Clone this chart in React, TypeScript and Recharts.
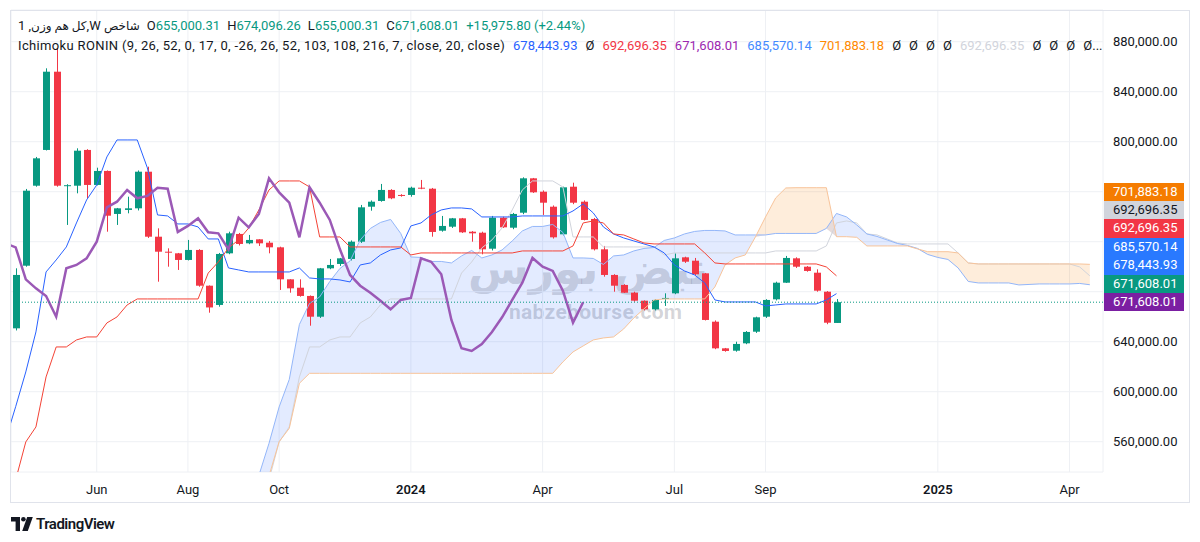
import React from "react";
import {
  ComposedChart,
  Bar,
  Line,
  Area,
  XAxis,
  YAxis,
  CartesianGrid,
  ReferenceLine,
} from "recharts";

// prices are in thousands (Toman index points / 1000)
const opens = [
  650.7, 700.8, 764.8, 793.4, 856.0, 764.8, 764.8, 793.4, 765.4, 776.6,
  742.2, 745.4, 746.7, 776.0, 724.0, 712.0, 710.7, 705.4, 713.4, 684.8,
  669.4, 710.7, 726.2, 718.7, 721.9, 719.2, 715.5, 689.9, 683.2, 676.6,
  660.0, 698.7, 702.2, 706.2, 720.0, 748.0, 752.6, 761.4, 757.4, 757.4,
  763.2, 762.4, 728.8, 732.0, 738.7, 728.0, 727.2, 714.4, 739.2, 731.2,
  743.2, 770.7, 760.0, 748.0, 725.9, 764.0, 752.0, 738.2, 713.9, 693.4,
  685.4, 679.2, 672.8, 665.9, 674.6, 678.7, 707.5, 704.8, 694.7, 656.0,
  634.7, 632.8, 638.7, 648.0, 660.0, 673.9, 687.2, 706.7, 700.0, 695.2,
  680.0, 655.0003,
];
const highs = [
  698.7, 762.2, 787.8, 858.7, 875.0, 766.0, 794.7, 794.0, 779.2, 777.0,
  747.0, 756.0, 777.0, 780.0, 730.7, 714.7, 711.0, 721.4, 714.0, 685.0,
  711.0, 728.0, 727.0, 725.4, 722.0, 720.6, 716.0, 690.0, 689.9, 677.0,
  699.0, 706.2, 707.0, 721.0, 749.4, 753.0, 766.2, 762.0, 758.0, 764.0,
  769.4, 763.0, 740.6, 739.0, 739.0, 728.5, 728.0, 740.6, 740.0, 743.0,
  771.5, 771.0, 761.0, 749.0, 764.0, 767.2, 753.0, 739.0, 716.6, 694.0,
  686.0, 680.0, 673.0, 674.0, 678.7, 710.7, 708.0, 707.0, 695.0, 657.0,
  635.0, 640.0, 648.5, 660.0, 674.0, 688.0, 708.6, 707.5, 700.5, 697.9,
  680.5, 674.0963,
];
const lows = [
  649.0, 700.0, 764.0, 793.0, 764.0, 733.4, 758.7, 754.7, 765.0, 728.0,
  733.4, 742.7, 745.0, 723.0, 688.0, 700.0, 697.4, 705.0, 684.0, 663.2,
  668.0, 710.0, 717.0, 718.0, 716.6, 710.7, 681.4, 679.2, 676.0, 652.8,
  659.0, 698.0, 700.6, 705.0, 719.0, 744.8, 752.0, 754.0, 756.0, 756.0,
  762.0, 724.0, 728.0, 731.0, 727.0, 720.0, 709.9, 713.0, 731.0, 730.0,
  742.0, 759.0, 741.4, 722.5, 725.0, 750.0, 737.0, 713.0, 692.0, 680.0,
  679.0, 672.0, 665.0, 665.0, 668.6, 678.0, 703.0, 693.0, 657.0, 634.0,
  632.0, 632.0, 638.0, 647.0, 659.0, 673.0, 687.0, 699.0, 696.0, 680.0,
  654.0, 655.0003,
];
const closes = [
  693.4, 760.8, 786.7, 856.0, 764.8, 765.2, 792.8, 765.4, 776.6, 740.8,
  746.7, 746.7, 776.0, 724.0, 712.0, 711.2, 705.4, 713.4, 684.8, 667.4,
  710.2, 726.7, 718.2, 721.4, 718.7, 715.5, 689.9, 682.7, 676.6, 660.0,
  698.7, 701.4, 706.7, 720.0, 747.5, 752.0, 761.4, 754.7, 756.6, 763.2,
  762.4, 727.8, 732.6, 738.7, 727.5, 726.7, 713.9, 739.2, 731.5, 742.2,
  770.7, 759.5, 751.2, 723.5, 763.5, 751.2, 737.4, 713.9, 693.4, 684.8,
  679.2, 672.8, 665.9, 673.4, 675.0, 706.7, 704.0, 693.9, 657.4, 634.7,
  632.6, 638.2, 647.8, 659.5, 673.4, 687.2, 707.0, 700.0, 696.6, 680.8,
  655.2, 671.608,
];

// conversion line (9), first value sits one week before the first candle
const tenkanStart = -1;
const tenkan = [
  561.4, 588.0, 615.8, 647.8, 695.8, 705.4, 715.8, 735.0, 753.4, 765.4,
  787.8, 801.4, 801.4, 801.4, 779.0, 741.4, 740.6, 734.2, 734.2, 731.8,
  722.2, 722.2, 699.0, 697.4, 695.8, 695.8, 695.8, 695.8, 695.8, 699.0,
  691.0, 690.2, 690.2, 689.4, 687.8, 701.4, 703.0, 709.4, 713.4, 715.0,
  732.6, 735.0, 741.4, 745.4, 747.0, 747.0, 746.2, 739.8, 739.8, 739.8,
  739.8, 740.6, 740.6, 740.6, 740.6, 740.6, 744.6, 750.2, 743.0, 731.8,
  726.2, 723.0, 720.6, 718.2, 715.8, 711.0, 701.4, 696.6, 693.4, 687.0,
  673.4, 671.8, 671.8, 671.8, 671.8, 668.6, 669.4, 670.2, 670.2, 670.2,
  670.2, 673.4, 678.444,
];
// base line (26)
const kijun = [
  529.4, 559.8, 571.8, 611.8, 635.8, 635.8, 641.4, 643.8, 643.8, 655.0,
  659.8, 669.4, 674.2, 674.2, 674.2, 674.2, 674.2, 674.2, 674.2, 694.9,
  703.8, 715.0, 721.4, 731.0, 745.4, 761.4, 768.6, 768.6, 768.6, 763.8,
  723.8, 723.8, 723.8, 715.8, 715.8, 715.8, 715.8, 715.8, 715.8, 709.4,
  711.0, 711.0, 711.0, 711.0, 711.0, 711.0, 711.0, 711.0, 711.0, 711.0,
  712.6, 712.6, 712.6, 712.6, 712.6, 716.6, 735.0, 736.6, 735.0, 726.2,
  725.4, 722.2, 719.0, 718.2, 718.2, 718.2, 718.2, 718.2, 711.0, 703.0,
  702.2, 702.2, 702.2, 702.2, 702.2, 702.2, 702.2, 702.2, 702.2, 702.2,
  699.8, 692.696,
];
// leading spans, drawn from week 24 up to 25 weeks past the last candle
const spanStart = 24;
const spanA = [
  533.0, 558.7, 587.8, 609.8, 653.8, 670.6, 675.8, 688.2, 698.6, 704.6,
  721.4, 730.6, 735.4, 737.8, 726.6, 707.8, 707.4, 704.2, 704.2, 703.0,
  708.6, 713.0, 707.0, 709.4, 713.4, 720.6, 728.6, 732.2, 732.2, 733.8,
  727.4, 707.0, 707.0, 706.6, 701.8, 708.6, 709.4, 712.6, 714.6, 715.4,
  721.0, 723.0, 726.2, 728.2, 729.0, 729.0, 728.6, 725.4, 725.4, 725.4,
  725.4, 726.6, 726.6, 726.6, 726.6, 726.6, 730.6, 742.6, 739.8, 733.4,
  726.2, 724.2, 721.4, 718.6, 717.0, 714.6, 709.8, 707.4, 705.8, 699.0,
  688.2, 687.0, 687.0, 687.0, 687.0, 685.4, 685.8, 686.2, 686.2, 686.2,
  686.2, 686.6, 685.570,
];
const spanB = [
  505.0, 532.6, 560.0, 570.7, 606.7, 614.7, 614.7, 614.7, 614.7, 614.7,
  614.7, 614.7, 614.7, 614.7, 614.7, 614.7, 614.7, 614.7, 614.7, 614.7,
  614.7, 614.7, 614.7, 614.7, 614.7, 614.7, 614.7, 614.7, 614.7, 614.7,
  623.8, 631.8, 636.6, 641.4, 643.0, 643.8, 650.2, 659.0, 666.2, 673.4,
  674.2, 674.2, 674.2, 674.2, 674.2, 683.8, 701.4, 707.0, 709.4, 723.8,
  739.8, 755.0, 763.0, 763.2, 763.2, 763.2, 763.2, 724.0, 724.0, 723.5,
  716.6, 716.6, 716.6, 716.6, 716.6, 714.2, 712.0, 712.0, 712.0, 711.0,
  703.0, 702.2, 702.2, 702.2, 702.2, 702.2, 702.2, 702.2, 702.2, 702.2,
  702.2, 702.2, 701.883,
];
// lagging span and shifted base line use the same 25-week displacement
const SHIFT = 25;

const timeTicks = [8, 17, 26, 39, 52, 65, 74, 91, 104];
const timeLabels = ["Jun", "Aug", "Oct", "2024", "Apr", "Jul", "Sep", "2025", "Apr"];
const priceTicks = [560, 600, 640, 680, 720, 760, 800, 840, 880];
// these labels sit under the price tags
const coveredTicks = [680, 720, 760];

const lastBar = { open: 655000.31, high: 674096.26, low: 655000.31, close: 671608.01 };
const change = { abs: 15975.8, pct: 2.44 };
const lineValues = {
  tenkan: 678443.93,
  kijun: 692696.35,
  chikou: 671608.01,
  spanA: 685570.14,
  spanB: 701883.18,
  shiftedBase: 692696.35,
};

const UP = "#089981";
const DOWN = "#f23645";
const FONT = "Roboto, 'DejaVu Sans', sans-serif";
const Y_DOMAIN: [number, number] = [535.76, 905.36];
const X_DOMAIN: [number, number] = [-0.46, 107.3];
const PLOT_TOP = 10;
const PLOT_H = 462;

const LAST = 106;
const rows: any[] = [];
for (let i = -1; i <= LAST; i++) {
  const row: any = { i };
  if (i >= 0 && i < closes.length) {
    row.open = opens[i];
    row.high = highs[i];
    row.low = lows[i];
    row.close = closes[i];
  }
  const t = tenkan[i - tenkanStart];
  if (t !== undefined) row.tenkan = t;
  if (i >= 0 && kijun[i] !== undefined) row.kijun = kijun[i];
  if (i + SHIFT >= 0 && i + SHIFT < closes.length) row.chikou = closes[i + SHIFT];
  const a = spanA[i - spanStart];
  const b = spanB[i - spanStart];
  if (a !== undefined && b !== undefined) {
    row.spanA = a;
    row.spanB = b;
    row.bull = [Math.min(a, b), a];
    row.bear = [Math.min(a, b), b];
  }
  if (i - SHIFT >= 0 && kijun[i - SHIFT] !== undefined) row.baseShift = kijun[i - SHIFT];
  rows.push(row);
}

const fmt = (v: number) =>
  v.toLocaleString("en-US", { minimumFractionDigits: 2, maximumFractionDigits: 2 });

const yOf = (p: number) =>
  PLOT_TOP + ((Y_DOMAIN[1] - p) / (Y_DOMAIN[1] - Y_DOMAIN[0])) * PLOT_H;

const Candle = (props: any) => {
  const { x, y, width, height, payload } = props;
  if (!payload || payload.open == null || height == null) return <g />;
  const { open, high, low, close } = payload;
  const top = Math.min(y, y + height);
  const h = Math.abs(height);
  const k = h / (high - low || 1);
  const py = (v: number) => top + (high - v) * k;
  const color = close >= open ? UP : DOWN;
  const cx = Math.round(x + width / 2) + 0.5;
  const bTop = py(Math.max(open, close));
  const bBot = py(Math.min(open, close));
  return (
    <g>
      <line x1={cx} x2={cx} y1={top} y2={top + h} stroke={color} strokeWidth={1} />
      <rect x={cx - 3.5} y={bTop} width={7} height={Math.max(1, bBot - bTop)} fill={color} />
    </g>
  );
};

const TimeTick = (props: any) => {
  const { x, y, payload } = props;
  const label = timeLabels[timeTicks.indexOf(payload.value)];
  const year = /^\d{4}$/.test(label);
  return (
    <text
      x={x}
      y={y + 22}
      textAnchor="middle"
      fontSize={13}
      fontWeight={year ? 600 : 400}
      fill="#131722"
      fontFamily={FONT}
    >
      {label}
    </text>
  );
};

const PriceTick = (props: any) => {
  const { x, y, payload } = props;
  if (coveredTicks.includes(payload.value)) return <g />;
  return (
    <text x={x} y={y + 4.5} textAnchor="start" fontSize={13} fill="#131722" fontFamily={FONT}>
      {`${payload.value},000.00`}
    </text>
  );
};

const tags = [
  { value: lineValues.spanB, bg: "#f57c00", fg: "#fff" },
  { value: lineValues.shiftedBase, bg: "#d1d4dc", fg: "#131722" },
  { value: lineValues.kijun, bg: "#f23645", fg: "#fff" },
  { value: lineValues.spanA, bg: "#2979ff", fg: "#fff" },
  { value: lineValues.tenkan, bg: "#2979ff", fg: "#fff" },
  { value: lastBar.close, bg: UP, fg: "#fff" },
  { value: lineValues.chikou, bg: "#7b1fa2", fg: "#fff" },
];
const TAG_H = 18.4;

export default function App() {
  const bottomTagTop = yOf(lineValues.chikou / 1000) - TAG_H / 2;
  const green = { color: UP };
  return (
    <div
      style={{
        position: "absolute",
        left: 0,
        top: 0,
        width: 1200,
        height: 542,
        background: "#fff",
        overflow: "hidden",
        fontFamily: FONT,
      }}
    >
      {/* watermark */}
      <div
        style={{
          position: "absolute",
          left: 428,
          top: 246,
          width: 320,
          textAlign: "center",
          fontSize: 44,
          fontWeight: 700,
          color: "rgba(120,123,134,0.3)",
          fontFamily: "'DejaVu Sans', sans-serif",
          direction: "rtl",
          lineHeight: "46px",
          whiteSpace: "nowrap",
          letterSpacing: 3,
        }}
      >
        نبض بورس
      </div>
      <div
        style={{
          position: "absolute",
          left: 509,
          top: 300,
          fontSize: 21,
          lineHeight: "24px",
          fontWeight: 700,
          letterSpacing: 0.3,
          color: "rgba(120,123,134,0.32)",
        }}
      >
        nabzebourse.com
      </div>

      <div style={{ position: "absolute", left: 0, top: 0 }}>
        <ComposedChart
          width={1200}
          height={542}
          data={rows}
          margin={{ top: 10, right: 10, left: 11, bottom: 40 }}
        >
          <CartesianGrid stroke="#eef0f4" />
          <XAxis
            dataKey="i"
            type="number"
            domain={X_DOMAIN}
            allowDataOverflow
            ticks={timeTicks}
            interval={0}
            tick={<TimeTick />}
            axisLine={false}
            tickLine={false}
            tickSize={0}
            tickMargin={0}
            height={30}
          />
          <YAxis
            orientation="right"
            domain={Y_DOMAIN}
            allowDataOverflow
            ticks={priceTicks}
            interval={0}
            tick={<PriceTick />}
            axisLine={false}
            tickLine={false}
            tickSize={0}
            tickMargin={10}
            width={87}
          />
          <Area
            dataKey="bull"
            type="linear"
            stroke="none"
            fill="rgba(41,98,255,0.13)"
            fillOpacity={1}
            isAnimationActive={false}
          />
          <Area
            dataKey="bear"
            type="linear"
            stroke="none"
            fill="rgba(245,124,0,0.14)"
            fillOpacity={1}
            isAnimationActive={false}
          />
          <Line dataKey="baseShift" type="linear" stroke="#d1d4dc" strokeWidth={1} dot={false} isAnimationActive={false} />
          <Line dataKey="spanA" type="linear" stroke="#93b6f9" strokeWidth={1} dot={false} isAnimationActive={false} />
          <Line dataKey="spanB" type="linear" stroke="#f8c49a" strokeWidth={1} dot={false} isAnimationActive={false} />
          <Bar
            dataKey={(d: any) => (d.open != null ? [d.low, d.high] : null)}
            barSize={7}
            shape={<Candle />}
            isAnimationActive={false}
          />
          <Line dataKey="tenkan" type="linear" stroke="#2962ff" strokeWidth={1} dot={false} isAnimationActive={false} />
          <Line dataKey="kijun" type="linear" stroke="#f44336" strokeWidth={1} dot={false} isAnimationActive={false} />
          <Line dataKey="chikou" type="linear" stroke="#9b59b6" strokeWidth={2.5} dot={false} isAnimationActive={false} />
          <ReferenceLine y={lastBar.close / 1000} stroke={UP} strokeDasharray="1 2" strokeWidth={1} />
        </ComposedChart>
      </div>

      {/* frame */}
      <div
        style={{
          position: "absolute",
          left: 10,
          top: 10,
          width: 1180,
          height: 493,
          border: "1px solid #e0e3eb",
          boxSizing: "border-box",
          pointerEvents: "none",
        }}
      />

      {/* legend */}
      <div
        style={{
          position: "absolute",
          left: 18,
          top: 18,
          fontSize: 13,
          lineHeight: "16px",
          color: "#131722",
          display: "flex",
          gap: 7,
          whiteSpace: "nowrap",
        }}
      >
        <span style={{ fontSize: 12 }}>
          <span style={{ fontSize: 13 }}>1 ,</span>
          <bdi>کل هم وزن</bdi>
          <span style={{ fontSize: 13 }}>,W </span>
          <bdi>شاخص</bdi>
        </span>
        <span>
          O<span style={green}>{fmt(lastBar.open)}</span>
        </span>
        <span>
          H<span style={green}>{fmt(lastBar.high)}</span>
        </span>
        <span>
          L<span style={green}>{fmt(lastBar.low)}</span>
        </span>
        <span>
          C<span style={green}>{fmt(lastBar.close)}</span>
        </span>
        <span style={green}>
          +{fmt(change.abs)} (+{change.pct.toFixed(2)}%)
        </span>
      </div>
      <div
        style={{
          position: "absolute",
          left: 18,
          top: 38,
          fontSize: 13,
          lineHeight: "16px",
          color: "#131722",
          display: "flex",
          gap: 8,
          whiteSpace: "nowrap",
        }}
      >
        <span style={{ letterSpacing: 0.35 }}>
          Ichimoku RONIN (9, 26, 52, 0, 17, 0, -26, 26, 52, 103, 108, 216, 7, close, 20, close)
        </span>
        <span style={{ color: "#2962ff" }}>{fmt(lineValues.tenkan)}</span>
        <span>Ø</span>
        <span style={{ color: "#f23645" }}>{fmt(lineValues.kijun)}</span>
        <span style={{ color: "#9c27b0" }}>{fmt(lineValues.chikou)}</span>
        <span style={{ color: "#448aff" }}>{fmt(lineValues.spanA)}</span>
        <span style={{ color: "#ff8a00" }}>{fmt(lineValues.spanB)}</span>
        <span>Ø</span>
        <span>Ø</span>
        <span>Ø</span>
        <span>Ø</span>
        <span style={{ color: "#d1d4dc" }}>{fmt(lineValues.shiftedBase)}</span>
        <span>Ø</span>
        <span>Ø</span>
        <span>Ø</span>
        <span>Ø...</span>
      </div>

      {/* price tags */}
      {tags.map((t, idx) => (
        <div
          key={idx}
          style={{
            position: "absolute",
            left: 1104,
            top: bottomTagTop - (tags.length - 1 - idx) * TAG_H,
            width: 80,
            height: TAG_H,
            background: t.bg,
            color: t.fg,
            fontSize: 13,
            lineHeight: `${TAG_H}px`,
            paddingLeft: 9,
            boxSizing: "border-box",
          }}
        >
          {fmt(t.value)}
        </div>
      ))}

      {/* TradingView mark */}
      <div style={{ position: "absolute", left: 11, top: 515, display: "flex", alignItems: "center", gap: 3 }}>
        <svg width={22} height={14} viewBox="0 0 22 14">
          <path d="M0 0h9v14H4.6V4.4H0z" fill="#131722" />
          <circle cx={12.4} cy={2.3} r={2.3} fill="#131722" />
          <path d="M16.2 0h5.6l-5 14h-5.6z" fill="#131722" />
        </svg>
        <span style={{ fontSize: 15, fontWeight: 600, letterSpacing: -0.5, color: "#131722" }}>
          TradingView
        </span>
      </div>
    </div>
  );
}
